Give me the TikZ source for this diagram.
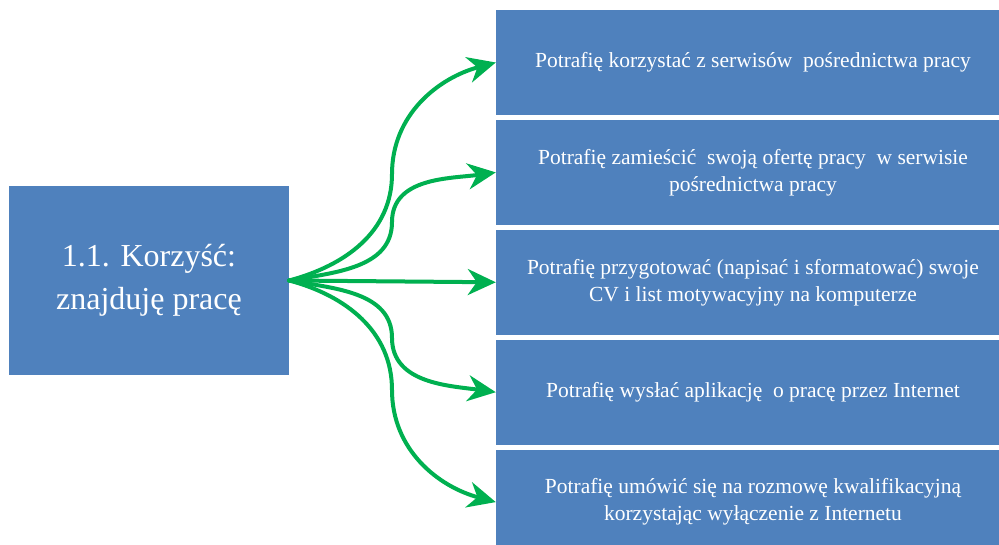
\documentclass[tikz,border=0pt]{standalone}
\usepackage{fontspec}
\setmainfont{Liberation Serif}
\usetikzlibrary{positioning,arrows.meta}
\definecolor{boxblue}{HTML}{4F81BD}
\definecolor{arrowgreen}{HTML}{00B050}
\tikzset{
  benefit/.style={ % the big box on the left
    rectangle, fill=boxblue, text=white,
    minimum width=280pt, minimum height=189pt, inner sep=0pt,
    align=center, font=\fontsize{32}{43}\selectfont
  },
  skill/.style={ % one box of the list on the right
    rectangle, fill=boxblue, text=white,
    minimum width=514pt, minimum height=105pt, inner sep=0pt,
    align=center, font=\fontsize{21.5}{27}\selectfont
  },
  link/.style={ % green arrow from the benefit to a skill
    draw=arrowgreen, line width=4pt, line cap=round,
    -{Stealth[length=28pt,width=26pt,inset=9pt]}
  }
}

\begin{document}
\begin{tikzpicture}[x=1pt,y=1pt]
  \useasboundingbox (0,0) rectangle (999,545);

  \node[benefit] (B) at (149,264.5) {1.1. Korzyść:\\znajduję pracę};

  \node[skill] (S1) at (753,482.5) {Potrafię korzystać z serwisów\ \ pośrednictwa pracy};
  \node[skill] (S2) [below=4.5pt of S1] {Potrafię zamieścić\ \ swoją\ ofertę pracy\ \ w serwisie\\pośrednictwa pracy};
  \node[skill] (S3) [below=4.5pt of S2] {Potrafię przygotować (napisać\ i sformatować) swoje\\CV i list\ motywacyjny na\ komputerze};
  \node[skill] (S4) [below=4.5pt of S3] {Potrafię wysłać aplikację\ \ o pracę przez Internet};
  \node[skill] (S5) [below=4.5pt of S4] {Potrafię umówić się na rozmowę kwalifikacyjną\\korzystając wyłączenie z Internetu};

  % turning points of the curved arrows
  \coordinate (m1) at (392,371);
  \coordinate (m2) at (392,323);
  \coordinate (m4) at (392,207);
  \coordinate (m5) at (392,155);

  \draw[link] (B.east) to[out=15,in=-90] (m1) to[out=90,in=195] (S1.west);
  \draw[link] (B.east) to[out=10,in=-90] (m2) to[out=90,in=188] (S2.west);
  \draw[link] (B.east) -- (S3.west);
  \draw[link] (B.east) to[out=-10,in=90] (m4) to[out=-90,in=172] (S4.west);
  \draw[link] (B.east) to[out=-15,in=90] (m5) to[out=-90,in=165] (S5.west);
\end{tikzpicture}
\end{document}
